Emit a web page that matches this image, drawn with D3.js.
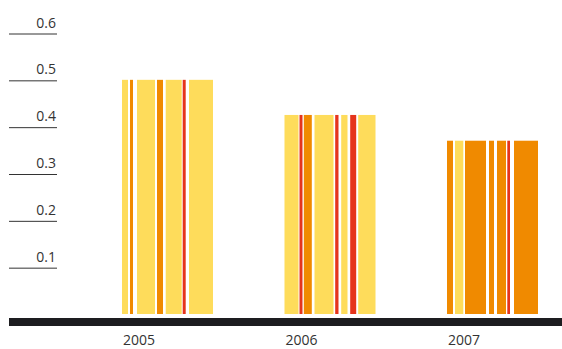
<!DOCTYPE html>
<html>
<head>
<meta charset="utf-8">
<script src="https://cdn.jsdelivr.net/npm/d3@7"></script>
<style>
  html, body { margin: 0; padding: 0; background: #fff; }
  svg { display: block; }
  text { font-family: "Open Sans", "Noto Sans", sans-serif; fill: #333; }
</style>
</head>
<body>
<svg id="chart" width="562" height="349"></svg>
<script>
// data
const years = ["2005", "2006", "2007"];
const values = [0.5, 0.425, 0.37];
const tickValues = [0.1, 0.2, 0.3, 0.4, 0.5, 0.6];

// stripe look of each bar (units out of 91, colour key)
const stripes = [
  [[0, 6, "y"], [8, 11, "o"], [15, 33, "y"], [35, 41, "o"], [43.7, 59.7, "y"], [60.7, 63.7, "r"], [67, 91, "y"]],
  [[0, 14, "y"], [15, 18, "r"], [19.3, 27.3, "o"], [30, 49, "y"], [50.7, 54, "r"], [56.7, 63, "y"], [65.7, 71.7, "r"], [73.7, 91, "y"]],
  [[0, 6, "o"], [8, 16.3, "y"], [18, 39, "o"], [42, 47, "o"], [50, 59, "o"], [60.3, 63, "r"], [67, 91, "o"]]
];
const colors = { y: "#fedc5b", o: "#f08a00", r: "#e5341c" };

const svg = d3.select("#chart");

const x = d3.scaleBand().domain(years).range([122, 538]).paddingInner(0.44).paddingOuter(0);
const y = d3.scaleLinear().domain([0, 0.6]).range([314, 33]);
const u = d3.scaleLinear().domain([0, 91]).range([0, x.bandwidth()]);

// ! Y AXIS: short rules with labels sitting on top
const yAxis = svg.append("g")
  .attr("transform", "translate(57,0)")
  .call(d3.axisLeft(y).tickValues(tickValues).tickSize(48).tickFormat(d3.format(".1f")));
yAxis.select(".domain").remove();
yAxis.selectAll(".tick line").attr("stroke", "#333").attr("stroke-width", 1)
  .attr("transform", "translate(0,0.5)");
yAxis.selectAll(".tick text")
  .attr("x", -1).attr("y", -6).attr("dy", 0)
  .attr("text-anchor", "end")
  .style("font-size", "14px").style("font-family", null).attr("fill", "#333");

// ! BARS made of vertical stripes
const bars = svg.append("g").selectAll("g")
  .data(years.map((yr, i) => ({ yr, v: values[i], s: stripes[i] })))
  .join("g")
  .attr("transform", d => `translate(${x(d.yr)},0)`);

bars.selectAll("rect")
  .data(d => d.s.map(s => ({ s, v: d.v })))
  .join("rect")
  .attr("x", d => u(d.s[0]))
  .attr("width", d => u(d.s[1]) - u(d.s[0]))
  .attr("y", d => y(d.v))
  .attr("height", d => y(0) - y(d.v))
  .attr("fill", d => colors[d.s[2]]);

// ! BASELINE bar
svg.append("rect")
  .attr("x", 9).attr("y", 318)
  .attr("width", 553).attr("height", 8)
  .attr("fill", "#1d1d20");

// ! X labels, left aligned with bars
svg.append("g").selectAll("text")
  .data(years)
  .join("text")
  .attr("x", d => x(d) + 1)
  .attr("y", 345)
  .style("font-size", "14px")
  .text(d => d);
</script>
</body>
</html>
